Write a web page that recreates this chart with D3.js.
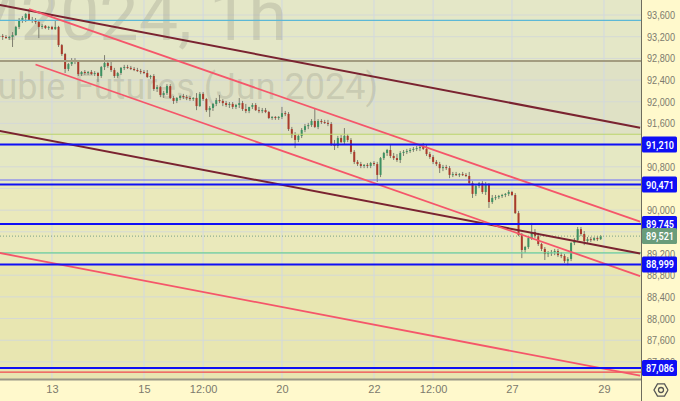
<!DOCTYPE html>
<html>
<head>
<meta charset="utf-8">
<script src="https://cdn.jsdelivr.net/npm/d3@7"></script>
<style>
  body { margin: 0; background: #fff9cc; }
  svg { display: block; font-family: Roboto, "DejaVu Sans", sans-serif; }
</style>
</head>
<body>
<div id="chart"></div>
<script>
// hourly bars, one row per trading day (first row: tail of the 8th)
const opens = [
  93195, 93215,
  93195, 93175, 93195, 93230, 93380, 93510, 93545, 93620, 93510, 93490, 93470, 93380, 93400, 93360,
  93380, 93340, 93380, 93045, 92880, 92605, 92695, 92770, 92735, 92510, 92550, 92530, 92550, 92510,
  92530, 92475, 92640, 92715, 92660, 92585, 92475, 92530, 92625, 92640, 92625, 92605, 92585, 92565,
  92550, 92530, 92455, 92475, 92235, 92270, 92125, 92160, 92290, 92070, 92015, 92070, 92105, 92085,
  92070, 92050, 92070, 91920, 92145, 92050, 91845, 91885, 91960, 92030, 92015, 91975, 91940, 91960,
  91905, 91940, 91975, 91865, 91830, 91905, 91940, 91845, 91830, 91845, 91810, 91700, 91720, 91700,
  91720, 91790, 91775, 91495, 91385, 91295, 91370, 91480, 91550, 91570, 91645, 91535, 91645, 91625,
  91610, 91590, 91220, 91185, 91330, 91255, 91370, 91295, 91075, 90890, 90850, 90815, 90835, 90815,
  90870, 90850, 90650, 90960, 91055, 91110, 91000, 90960, 90925, 91055, 91075, 91090, 91110, 91130,
  91145, 91165, 91130, 91035, 90980, 90890, 90850, 90775, 90795, 90775, 90650, 90665, 90650, 90665,
  90650, 90630, 90500, 90300, 90445, 90500, 90335, 90465, 90150, 90225, 90240, 90260, 90280, 90300,
  90335, 90280, 89945, 89540, 89265, 89320, 89485, 89595, 89520, 89375, 89285, 89190, 89210, 89225,
  89245, 89170, 89155, 89060, 89100, 89395, 89450, 89650, 89560, 89430, 89465, 89450, 89485, 89465
];
const highs = [
  93250, 93250,
  93230, 93215, 93285, 93400, 93545, 93580, 93635, 93710, 93565, 93545, 93510, 93435, 93415, 93400,
  93400, 93510, 93400, 93065, 92900, 92715, 92805, 92805, 92770, 92565, 92585, 92565, 92585, 92565,
  92550, 92660, 92860, 92770, 92735, 92625, 92550, 92640, 92680, 92680, 92660, 92640, 92625, 92605,
  92585, 92585, 92495, 92510, 92310, 92290, 92200, 92325, 92325, 92105, 92085, 92125, 92145, 92125,
  92105, 92085, 92160, 92180, 92180, 92070, 91920, 91975, 92070, 92125, 92050, 92015, 91995, 91995,
  91960, 92070, 92015, 91960, 91885, 91975, 91975, 91905, 91885, 91885, 91830, 91735, 91735, 91735,
  91905, 91830, 91810, 91535, 91440, 91405, 91515, 91590, 91610, 91680, 91885, 91680, 91680, 91665,
  91665, 91625, 91295, 91370, 91385, 91515, 91405, 91330, 91110, 90925, 90890, 90850, 90870, 90890,
  90905, 90890, 90980, 91075, 91130, 91200, 91055, 91035, 91090, 91110, 91130, 91145, 91165, 91185,
  91185, 91240, 91220, 91075, 91015, 90925, 90890, 90835, 90835, 90815, 90705, 90705, 90685, 90705,
  90685, 90705, 90535, 90480, 90520, 90535, 90520, 90500, 90280, 90280, 90280, 90300, 90315, 90370,
  90355, 90315, 89985, 89580, 89340, 89520, 89765, 89650, 89580, 89395, 89320, 89245, 89265, 89285,
  89285, 89225, 89190, 89135, 89410, 89485, 89690, 89690, 89615, 89505, 89505, 89505, 89520, 89540
];
const lows = [
  93160, 93140,
  93160, 93140, 93010, 93215, 93340, 93455, 93470, 93490, 93455, 93435, 93175, 93340, 93340, 93325,
  93325, 93325, 93010, 92845, 92530, 92565, 92660, 92695, 92475, 92475, 92495, 92495, 92495, 92475,
  92365, 92440, 92585, 92625, 92550, 92440, 92440, 92495, 92585, 92605, 92585, 92565, 92550, 92510,
  92510, 92440, 92420, 92200, 92180, 92085, 92070, 92125, 92050, 91960, 91975, 92030, 92050, 92030,
  92015, 92015, 91845, 91905, 92015, 91810, 91720, 91830, 91920, 91975, 91920, 91905, 91885, 91865,
  91865, 91885, 91830, 91790, 91790, 91865, 91830, 91790, 91790, 91790, 91680, 91665, 91665, 91665,
  91680, 91735, 91460, 91330, 91145, 91255, 91330, 91440, 91495, 91535, 91515, 91495, 91590, 91590,
  91550, 91185, 91110, 91145, 91240, 91220, 91255, 91035, 90850, 90815, 90775, 90775, 90775, 90775,
  90815, 90520, 90610, 90925, 91000, 90960, 90925, 90890, 90870, 91000, 91035, 91055, 91075, 91090,
  91090, 91110, 91000, 90945, 90850, 90815, 90685, 90720, 90740, 90590, 90610, 90630, 90610, 90630,
  90610, 90465, 90225, 90260, 90410, 90300, 90280, 90040, 90115, 90185, 90205, 90225, 90240, 90260,
  90260, 89930, 89520, 89115, 89210, 89285, 89450, 89485, 89340, 89245, 89080, 89135, 89155, 89170,
  89135, 89115, 89025, 88985, 89060, 89355, 89430, 89520, 89355, 89395, 89410, 89430, 89430, 89450
];
const closes = [
  93215, 93195,
  93175, 93195, 93230, 93380, 93510, 93545, 93620, 93510, 93490, 93470, 93380, 93400, 93360, 93380,
  93340, 93380, 93045, 92880, 92605, 92695, 92770, 92735, 92510, 92550, 92530, 92550, 92510, 92530,
  92475, 92640, 92715, 92660, 92585, 92475, 92530, 92625, 92640, 92625, 92605, 92585, 92565, 92550,
  92530, 92455, 92475, 92235, 92270, 92125, 92160, 92290, 92070, 92015, 92070, 92105, 92085, 92070,
  92050, 92070, 91920, 92145, 92050, 91845, 91885, 91960, 92030, 92015, 91975, 91940, 91960, 91905,
  91940, 91975, 91865, 91830, 91905, 91940, 91845, 91830, 91845, 91810, 91700, 91720, 91700, 91720,
  91790, 91775, 91495, 91385, 91295, 91370, 91480, 91550, 91570, 91645, 91535, 91645, 91625, 91610,
  91590, 91220, 91185, 91330, 91255, 91370, 91295, 91075, 90890, 90850, 90815, 90835, 90815, 90870,
  90850, 90650, 90960, 91055, 91110, 91000, 90960, 90925, 91055, 91075, 91090, 91110, 91130, 91145,
  91165, 91130, 91035, 90980, 90890, 90850, 90775, 90795, 90775, 90650, 90665, 90650, 90665, 90650,
  90630, 90500, 90300, 90445, 90500, 90335, 90465, 90150, 90225, 90240, 90260, 90280, 90300, 90335,
  90280, 89945, 89540, 89265, 89320, 89485, 89595, 89520, 89375, 89285, 89190, 89210, 89225, 89245,
  89170, 89155, 89060, 89100, 89395, 89450, 89650, 89560, 89430, 89465, 89450, 89485, 89465, 89521
];

// time axis: bar index of each label
const timeTicks = [16, 44, 62, 86, 114, 132, 156, 184];
const timeLabels = ['13', '15', '12:00', '20', '22', '12:00', '27', '29'];

// price axis
const priceTicks = d3.range(87200, 93601, 400);

// horizontal levels
const keyLevels = [91210, 90471, 89745, 88999, 87086];   // blue, labelled
const thinLevels = [93500, 92750, 91400, 90556, 89210, 87010];
const lastPrice = 89521;
const zoneBreaks = [92750, 91400, 90471, 88999];

// drawn lines: [barIndex1, price1, barIndex2, price2]
const maroonLines = [[0, 93787, 195, 91521], [0, 91462, 195, 89202]];
const redLines = [[9, 93710, 195, 89787], [11, 92687, 195, 88783], [0, 89211, 195, 86947]];

const watermark1 = 'SiM2024, 1h';
const watermark2 = 'US Dollar - Russian Ruble Futures (Jun 2024)';

// ---- layout / style
const width = 680, height = 401, plotW = 641, plotH = 379;
const thinColors = ['#5cb8d6', '#a39c80', '#b9d36c', '#6d6dff', '#6ccf98', '#f0484f'];
const zoneColors = ['#e4e7c7', '#dfe1c5', '#e5e8c3', '#eae9bb', '#e8e6b1'];
const upColor = '#3e9162', downColor = '#a93b2c', wickColor = '#7e7e70';
const blue = '#0f0ff5';
const labelW = 28; // width of price labels on the axis

const x = d3.scaleLinear().domain([0, 195]).range([-0.6, 640.1]);
const y = d3.scaleLinear().domain([86885, 93877]).range([plotH, 0]);

const bars = closes.map((c, i) => ({ i, o: opens[i], h: highs[i], l: lows[i], c }));

const svg = d3.select('#chart').append('svg')
    .attr('width', width)
    .attr('height', height);

svg.append('rect').attr('width', width).attr('height', height).attr('fill', '#fff9cc');

svg.append('clipPath').attr('id', 'plotclip')
  .append('rect').attr('width', plotW).attr('height', plotH);

const plot = svg.append('g').attr('clip-path', 'url(#plotclip)');

// background zones
const edges = [y.domain()[1], ...zoneBreaks, y.domain()[0]];
plot.selectAll('.zone')
  .data(d3.pairs(edges))
  .enter().append('rect')
    .attr('x', 0)
    .attr('width', plotW)
    .attr('y', d => y(d[0]))
    .attr('height', d => y(d[1]) - y(d[0]))
    .attr('fill', (d, i) => zoneColors[i]);

// grid
plot.selectAll('.hgrid')
  .data(priceTicks)
  .enter().append('line')
    .attr('x1', 0).attr('x2', plotW)
    .attr('y1', d => y(d)).attr('y2', d => y(d))
    .attr('stroke', '#d4d9d6').attr('stroke-width', 1);

plot.selectAll('.vgrid')
  .data(timeTicks)
  .enter().append('line')
    .attr('x1', d => x(d)).attr('x2', d => x(d))
    .attr('y1', 0).attr('y2', plotH)
    .attr('stroke', '#d2d8e2').attr('stroke-width', 1);

// watermark
plot.append('text')
    .attr('x', 287).attr('y', 40)
    .attr('text-anchor', 'end')
    .attr('font-size', 70)
    .attr('fill', 'rgba(110,110,100,0.2)')
    .text(watermark1);
plot.append('text')
    .attr('x', 378).attr('y', 99)
    .attr('text-anchor', 'end')
    .attr('font-size', 36)
    .attr('fill', 'rgba(110,110,100,0.2)')
    .text(watermark2);

// candles
const candle = plot.selectAll('.candle')
  .data(bars)
  .enter().append('g');

candle.append('line')
    .attr('x1', d => x(d.i)).attr('x2', d => x(d.i))
    .attr('y1', d => y(d.h)).attr('y2', d => y(d.l))
    .attr('stroke', wickColor).attr('stroke-width', 1);

candle.append('rect')
    .attr('x', d => x(d.i) - 1)
    .attr('width', 2)
    .attr('y', d => y(Math.max(d.o, d.c)))
    .attr('height', d => Math.max(1, Math.abs(y(d.o) - y(d.c))))
    .attr('fill', d => d.c >= d.o ? upColor : downColor);

// thin horizontal levels
plot.selectAll('.thin')
  .data(thinLevels)
  .enter().append('line')
    .attr('x1', 0).attr('x2', plotW)
    .attr('y1', d => y(d)).attr('y2', d => y(d))
    .attr('stroke', (d, i) => thinColors[i])
    .attr('stroke-width', (d, i) => i === 1 ? 2 : 1.2);

// last price dotted line
plot.append('line')
    .attr('x1', 0).attr('x2', plotW)
    .attr('y1', y(lastPrice)).attr('y2', y(lastPrice))
    .attr('stroke', '#7a9f86').attr('stroke-width', 1)
    .attr('stroke-dasharray', '1,2');

// trend lines
const drawLines = (data, color, w) => plot.selectAll(null)
  .data(data)
  .enter().append('line')
    .attr('x1', d => x(d[0])).attr('y1', d => y(d[1]))
    .attr('x2', d => x(d[2])).attr('y2', d => y(d[3]))
    .attr('stroke', color).attr('stroke-width', w);

drawLines(maroonLines, '#7a2330', 2);
drawLines(redLines, '#f5566a', 1.8);

// key levels
plot.selectAll('.key')
  .data(keyLevels)
  .enter().append('line')
    .attr('x1', 0).attr('x2', plotW)
    .attr('y1', d => y(d)).attr('y2', d => y(d))
    .attr('stroke', blue).attr('stroke-width', 2);

// axes frame
svg.append('line')
    .attr('x1', 0).attr('x2', plotW)
    .attr('y1', plotH + 0.5).attr('y2', plotH + 0.5)
    .attr('stroke', '#9a9886').attr('stroke-width', 2);
svg.append('line')
    .attr('x1', plotW + 0.5).attr('x2', plotW + 0.5)
    .attr('y1', 0).attr('y2', height)
    .attr('stroke', '#6e6c5e').attr('stroke-width', 1);

// price axis (labels hidden behind a level tag are left out)
const visibleTicks = priceTicks.filter(p => !keyLevels.concat(lastPrice).some(v => Math.abs(y(v) - y(p)) < 6));
const yAxis = svg.append('g')
    .attr('transform', `translate(${plotW},0)`)
    .call(d3.axisRight(y).tickValues(visibleTicks).tickSize(0).tickPadding(6)
      .tickFormat(d3.format(',')));
yAxis.select('.domain').remove();
yAxis.selectAll('text')
    .attr('fill', '#7c7a6c').attr('font-size', 11)
    .attr('textLength', labelW).attr('lengthAdjust', 'spacingAndGlyphs');

// time axis
const xAxis = svg.append('g')
    .attr('transform', `translate(0,${plotH})`)
    .call(d3.axisBottom(x).tickValues(timeTicks).tickSize(0).tickPadding(6)
      .tickFormat((d, i) => timeLabels[i]));
xAxis.select('.domain').remove();
xAxis.selectAll('text').attr('fill', '#7c7a6c').attr('font-size', 11);

// level labels on the price axis
const tags = keyLevels.map(v => ({ v, fill: blue }))
  .concat([{ v: lastPrice, fill: '#6a9c7a' }]);
const tag = svg.selectAll('.tag')
  .data(tags)
  .enter().append('g')
    .attr('transform', d => `translate(${plotW + 1},${y(d.v)})`);
tag.append('rect')
    .attr('x', 0).attr('y', -8)
    .attr('width', 35).attr('height', 16)
    .attr('rx', 1.5)
    .attr('fill', d => d.fill);
tag.append('text')
    .attr('x', 4).attr('dy', '0.36em')
    .attr('font-size', 11).attr('font-weight', 600)
    .attr('textLength', labelW).attr('lengthAdjust', 'spacingAndGlyphs')
    .attr('fill', '#ffffff')
    .text(d => d3.format(',')(d.v));

// settings icon
const gear = svg.append('g').attr('transform', `translate(661,390)`);
gear.append('path')
    .attr('d', d3.line()(d3.range(7).map(k => [7 * Math.cos(k * Math.PI / 3), 7 * Math.sin(k * Math.PI / 3)])))
    .attr('fill', 'none').attr('stroke', '#555').attr('stroke-width', 1.3);
gear.append('circle').attr('r', 2.5)
    .attr('fill', 'none').attr('stroke', '#555').attr('stroke-width', 1.3);
</script>
</body>
</html>
